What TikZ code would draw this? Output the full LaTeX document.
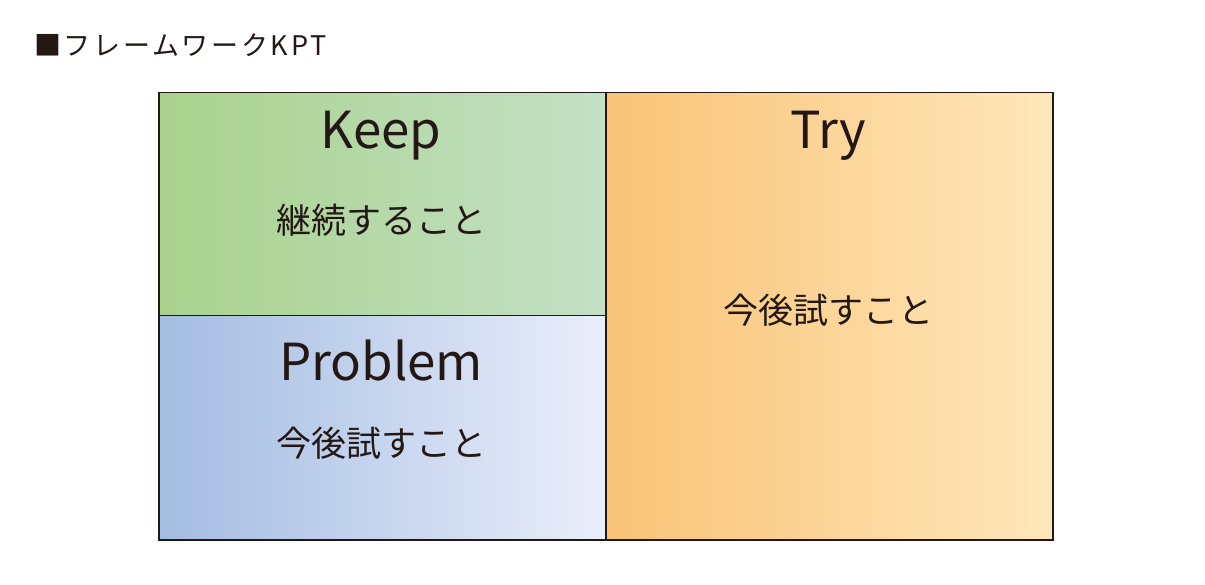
\documentclass[tikz,border=0pt]{standalone}
\usepackage{fontspec}
\setmainfont{Noto Sans CJK JP}
\definecolor{ink}{HTML}{231815}
\definecolor{keepL}{RGB}{168,210,140}
\definecolor{keepR}{RGB}{196,224,198}
\definecolor{probL}{RGB}{163,188,226}
\definecolor{probR}{RGB}{234,238,250}
\definecolor{tryL}{RGB}{249,195,118}
\definecolor{tryR}{RGB}{255,231,186}
\begin{document}
\begin{tikzpicture}[x=1pt,y=-1pt,
  cell/.style={draw=ink,line width=1.5pt,inner sep=0pt,anchor=north west,
    minimum width=447pt},
  head/.style={text=ink,font=\fontsize{51}{51}\selectfont},
  sub/.style={text=ink,font=\fontsize{35}{35}\selectfont}]
  \useasboundingbox (0,0) rectangle (1205,585);
  \node[cell,left color=keepL,right color=keepR,minimum height=223pt] (keep) at (158,92) {};
  \node[cell,left color=probL,right color=probR,minimum height=224pt] (prob) at (158,315) {};
  \node[cell,left color=tryL,right color=tryR,minimum height=447pt] (try) at (605,92) {};
  \node[head] (keeph) at (381,136) {Keep};
  \node[sub]  (keeps) at (381,220) {継続すること};
  \node[head] (probh) at (381,361) {Problem};
  \node[sub]  (probs) at (381,443) {今後試すこと};
  \node[head] (tryh)  at (828,136) {Try};
  \node[sub]  (trys)  at (828,310) {今後試すこと};
  \node[text=ink,anchor=west,inner sep=0pt,
    font=\fontsize{27}{27}\selectfont\addfontfeature{LetterSpace=10}] (title) at (34,45) {■フレームワークKPT};
\end{tikzpicture}
\end{document}
